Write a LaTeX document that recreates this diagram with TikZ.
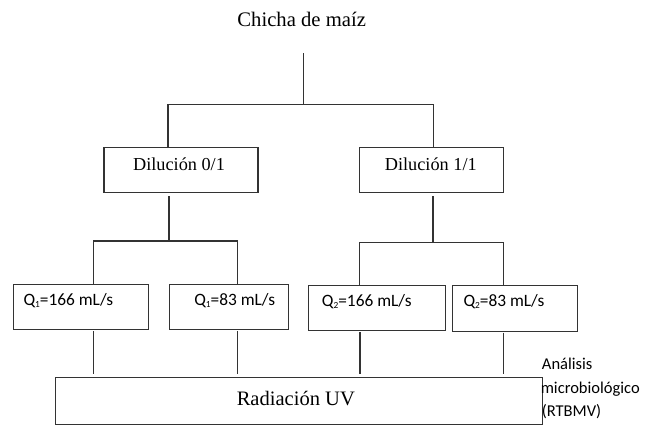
\documentclass[tikz,border=0pt]{standalone}
\usepackage{fontspec}
\setmainfont{Liberation Serif}
\newfontfamily\calfont{Carlito}
\newcommand{\qsub}[1]{\raisebox{-0.12em}{\fontsize{7}{7}\selectfont #1}}
\begin{document}
\begin{tikzpicture}[x=0.75pt,y=-0.75pt,
  boxst/.style={draw=black!80,line width=0.8pt,rectangle,inner sep=0pt},
  conn/.style={draw=black!80,line width=0.8pt},
  sertxt/.style={inner sep=0pt,font=\fontsize{13.7}{16}\selectfont},
  qtxt/.style={inner sep=0pt,anchor=base west,font=\calfont\fontsize{13}{15}\selectfont},
  antxt/.style={inner sep=0pt,anchor=base west,font=\calfont\fontsize{12.4}{15}\selectfont}]
\useasboundingbox (0,0) rectangle (660,425);
% title
\node[inner sep=0pt,anchor=base,font=\fontsize{15.5}{18}\selectfont] (title) at (301.7,26) {Chicha de maíz};
% boxes
\node[boxst,minimum width=154pt*0.75,minimum height=44.7pt*0.75] (dil0) at (181,170.3) {};
\node[boxst,minimum width=144pt*0.75,minimum height=44.7pt*0.75] (dil1) at (431.3,170.3) {};
\node[boxst,minimum width=135pt*0.75,minimum height=45.3pt*0.75] (q1) at (80.8,306.7) {};
\node[boxst,minimum width=119.4pt*0.75,minimum height=45.3pt*0.75] (q2) at (229,306.7) {};
\node[boxst,minimum width=136.7pt*0.75,minimum height=45.7pt*0.75] (q3) at (376.7,307.9) {};
\node[boxst,minimum width=125.4pt*0.75,minimum height=46.7pt*0.75] (q4) at (515,308.4) {};
\node[boxst,minimum width=487.3pt*0.75,minimum height=46.3pt*0.75] (uv) at (298.7,400.9) {};
% box texts
\node[sertxt,anchor=base] (t0) at (179,170) {Dilución 0/1};
\node[sertxt,anchor=base] (t1) at (430.8,170) {Dilución 1/1};
\node[qtxt] (tq1) at (23.3,305) {Q\qsub{1}=166 mL/s};
\node[qtxt] (tq2) at (194,305) {Q\qsub{1}=83 mL/s};
\node[qtxt] (tq3) at (321.7,306.5) {Q\qsub{2}=166 mL/s};
\node[qtxt] (tq4) at (463.3,306.5) {Q\qsub{2}=83 mL/s};
\node[inner sep=0pt,anchor=base,font=\fontsize{15.4}{18}\selectfont] (tuv) at (295.8,405) {Radiación UV};
\node[antxt] (an1) at (541.7,369.3) {Análisis};
\node[antxt] (an2) at (540.5,393.3) {microbiológico};
\node[antxt] (an3) at (541.5,416.7) {(RTBMV)};
% connector coordinates
\coordinate (top) at (303.7,53);
\coordinate (j0) at (303.7,104.5);
\coordinate (d0) at (168,148);
\coordinate (d1) at (433.3,148);
\coordinate (s0) at (169,196);
\coordinate (m0) at (169,241);
\coordinate (s1) at (433,196);
\coordinate (m1) at (433,242.3);
\coordinate (e1) at (93.3,284);
\coordinate (e2) at (237.3,284);
\coordinate (e3) at (359.3,285);
\coordinate (e4) at (503.3,285);
\coordinate (f1a) at (93.7,331);
\coordinate (f1b) at (93.7,374);
\coordinate (f2a) at (237.7,331);
\coordinate (f2b) at (237.7,374);
\coordinate (f3a) at (360,332);
\coordinate (f3b) at (360,374);
\coordinate (f4a) at (503.3,332.5);
\coordinate (f4b) at (503.3,374);
% connectors
\draw[conn] (top) -- (j0);
\draw[conn] (d0) |- (j0) -| (d1);
\draw[conn] (s0) -- (m0);
\draw[conn] (e1) |- (m0) -| (e2);
\draw[conn] (s1) -- (m1);
\draw[conn] (e3) |- (m1) -| (e4);
\draw[conn] (f1a) -- (f1b);
\draw[conn] (f2a) -- (f2b);
\draw[conn] (f3a) -- (f3b);
\draw[conn] (f4a) -- (f4b);
\end{tikzpicture}
\end{document}
